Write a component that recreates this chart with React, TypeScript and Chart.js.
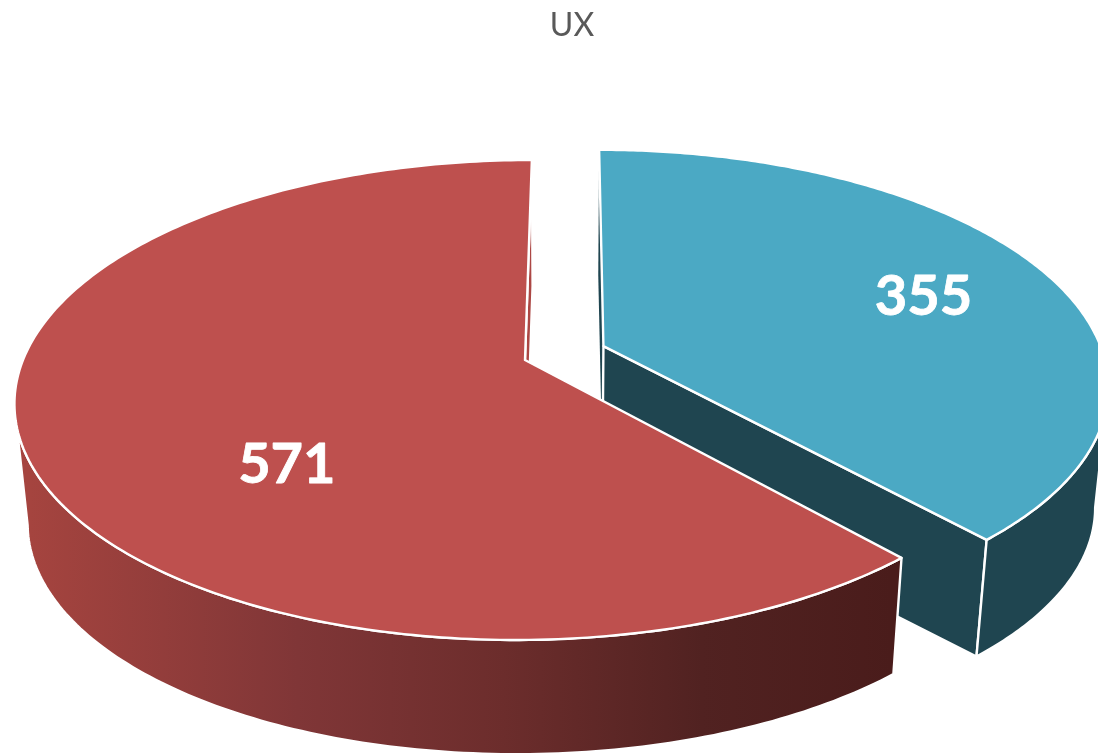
import React, { useEffect, useRef } from "react";
import { Chart, registerables } from "chart.js";

Chart.register(...registerables);

const categories = ["Segment A", "Segment B"];
const values = [355, 571];
const explode = [0.168, 0];
const topColors = ["#4BA9C4", "#BE504E"];
const radialColors = ["#1F4550", "#AC4744"];
const chartTitle = "UX";

// label placement in the plane of the pie: radius fraction and turn from the slice's middle
const labelRadius = [0.706, 0.604];
const labelTurn = [2.6, -23];

// view of the pie's plane
const view = { cx: 525, cy: 360, a: 502, b: 233.3, k: 1 / 6, skew: -8 };
// extrusion of the pie towards a vanishing point below
const depth = { vx: 563, vy: 5400, t: 0.024 };

type P = { x: number; y: number };

function project(theta: number, r: number, e: number, mid: number): P {
  const u = r * Math.sin(theta) + e * Math.sin(mid);
  const d = -r * Math.cos(theta) - e * Math.cos(mid);
  const w = 1 - view.k * d;
  return {
    x: view.cx + (view.a * u + view.skew * d) / w,
    y: view.cy + (view.b * d) / w,
  };
}

function sink(p: P): P {
  return {
    x: p.x + (depth.vx - p.x) * depth.t,
    y: p.y + (depth.vy - p.y) * depth.t,
  };
}

function poly(ctx: CanvasRenderingContext2D, pts: P[], close = true) {
  ctx.beginPath();
  pts.forEach((p, i) => (i ? ctx.lineTo(p.x, p.y) : ctx.moveTo(p.x, p.y)));
  if (close) ctx.closePath();
}

const pie3d = {
  id: "pie3d",
  beforeDatasetDraw(chart: any) {
    const ctx: CanvasRenderingContext2D = chart.ctx;
    const arcs = chart.getDatasetMeta(0).data;
    ctx.save();
    ctx.lineJoin = "round";
    ctx.strokeStyle = "#FFFFFF";
    ctx.lineWidth = 2.4;

    arcs.forEach((arc: any, i: number) => {
      const start = arc.startAngle + Math.PI / 2;
      const end = arc.endAngle + Math.PI / 2;
      const mid = (start + end) / 2;
      const e = explode[i];
      const steps = 240;
      const rim: P[] = [];
      for (let s = 0; s <= steps; s++) {
        rim.push(project(start + ((end - start) * s) / steps, 1, e, mid));
      }
      const apex = project(0, 0, e, mid);

      // radial walls
      [rim[0], rim[steps]].forEach((p) => {
        poly(ctx, [apex, p, sink(p), sink(apex)]);
        ctx.fillStyle = radialColors[i];
        ctx.fill();
      });
      const endQuad = [apex, rim[steps], sink(rim[steps]), sink(apex)];
      poly(ctx, endQuad);
      ctx.fill();
      ctx.stroke();

      // outer wall: only the part of the rim that faces the viewer
      const front: P[] = [];
      for (let s = 0; s < steps; s++) {
        if (rim[s + 1].x < rim[s].x) {
          if (!front.length) front.push(rim[s]);
          front.push(rim[s + 1]);
        }
      }
      const wall = [...front, ...front.slice().reverse().map(sink)];
      poly(ctx, wall);
      if (i === 1) {
        const g = ctx.createLinearGradient(30, 0, 892, 0);
        g.addColorStop(0, "#A5443F");
        g.addColorStop(0.31, "#803637");
        g.addColorStop(0.55, "#6C2D2C");
        g.addColorStop(0.78, "#512221");
        g.addColorStop(1, "#4A1C1B");
        ctx.fillStyle = g;
      } else {
        ctx.fillStyle = radialColors[i];
      }
      ctx.fill();
      ctx.stroke();

      // top face
      poly(ctx, [apex, ...rim]);
      ctx.fillStyle = topColors[i];
      ctx.fill();
      ctx.stroke();
    });

    // value labels
    ctx.fillStyle = "#FFFFFF";
    ctx.strokeStyle = "#FFFFFF";
    ctx.lineWidth = 0.8;
    ctx.font = "bold 56px Lato";
    ctx.textAlign = "center";
    ctx.textBaseline = "middle";
    arcs.forEach((arc: any, i: number) => {
      const start = arc.startAngle + Math.PI / 2;
      const end = arc.endAngle + Math.PI / 2;
      const mid = (start + end) / 2;
      const p = project(
        mid + (labelTurn[i] * Math.PI) / 180,
        labelRadius[i],
        explode[i],
        mid
      );
      ctx.fillText(String(values[i]), p.x, p.y);
      ctx.strokeText(String(values[i]), p.x, p.y);
    });
    ctx.restore();
    return false;
  },
};

export default function App() {
  const ref = useRef<HTMLCanvasElement | null>(null);
  useEffect(() => {
    document.body.style.margin = "0";
    const chart = new Chart(ref.current as HTMLCanvasElement, {
      type: "pie",
      data: {
        labels: categories,
        datasets: [{ data: values, backgroundColor: topColors, borderColor: "#FFFFFF", borderWidth: 2 }],
      },
      options: {
        animation: false,
        responsive: false,
        layout: { padding: { left: 46 } },
        plugins: {
          legend: { display: false },
          tooltip: { enabled: false },
          title: {
            display: true,
            text: chartTitle,
            color: "#595959",
            font: { family: "Lato", size: 32, weight: "normal" },
            padding: { top: 6, bottom: 10 },
          },
        },
      },
      plugins: [pie3d],
    } as any);
    return () => chart.destroy();
  }, []);
  return (
    <canvas
      ref={ref}
      width={1098}
      height={754}
      style={{ display: "block", width: 1098, height: 754 }}
    />
  );
}
